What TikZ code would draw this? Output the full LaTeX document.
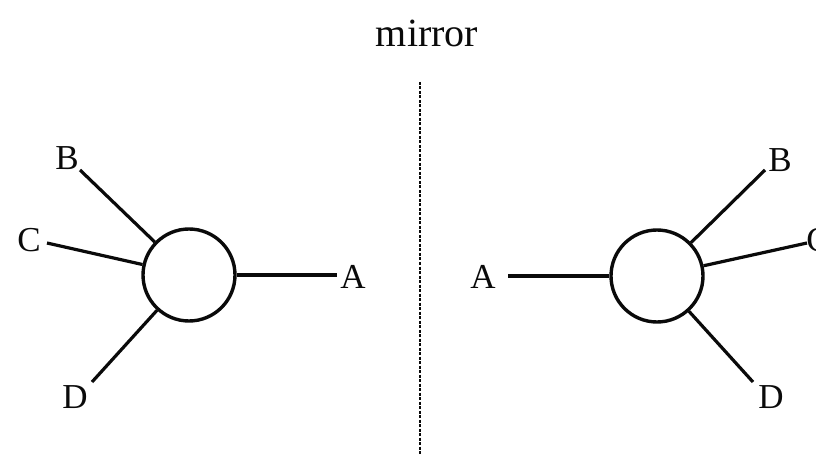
\documentclass[tikz,border=0pt]{standalone}
\usepackage{fontspec}
\setmainfont{Liberation Serif}
\usetikzlibrary{positioning}
\definecolor{ink}{RGB}{10,10,10}
\tikzset{
  atom/.style={circle,draw=ink,line width=3.4pt,minimum size=92pt,inner sep=0pt},
  bond/.style={draw=ink,line width=3.2pt},
  lbl/.style={font=\fontsize{35}{38}\selectfont,text=ink,inner sep=0pt},
  mirrorline/.style={draw=ink,line width=2.6pt,dash pattern=on 3pt off 1.5pt},
}
\begin{document}
\begin{tikzpicture}[x=1pt,y=-1pt]
  \useasboundingbox (0,0) rectangle (816,454);
  % mirror plane
  \node[lbl,font=\fontsize{40}{44}\selectfont] (mirror) at (427,33) {mirror};
  \coordinate (mtop) at (420,82);
  \coordinate (mbot) at (420,454);
  \draw[mirrorline] (mtop) -- (mbot);
  % left molecule
  \node[atom] (lc) at (189,275) {};
  \node[lbl] (lA) at (353,277) {A};
  \node[lbl] (lB) at (67,158) {B};
  \node[lbl] (lC) at (29,240) {C};
  \node[lbl] (lD) at (75,397) {D};
  \coordinate (lAe) at (337,275);
  \coordinate (lBe) at (80,170);
  \coordinate (lCe) at (47,243);
  \coordinate (lDe) at (92,382);
  \foreach \k in {A,B,C,D} \draw[bond] (lc) -- (l\k e);
  % right molecule (mirror image)
  \node[atom] (rc) at (657,276) {};
  \node[lbl] (rA) at (483,277) {A};
  \node[lbl] (rB) at (780,160) {B};
  \node[lbl] (rC) at (818,240) {C};
  \node[lbl] (rD) at (771,397) {D};
  \coordinate (rAe) at (508,276);
  \coordinate (rBe) at (765,170);
  \coordinate (rCe) at (807,243);
  \coordinate (rDe) at (753,382);
  \foreach \k in {A,B,C,D} \draw[bond] (rc) -- (r\k e);
\end{tikzpicture}
\end{document}
